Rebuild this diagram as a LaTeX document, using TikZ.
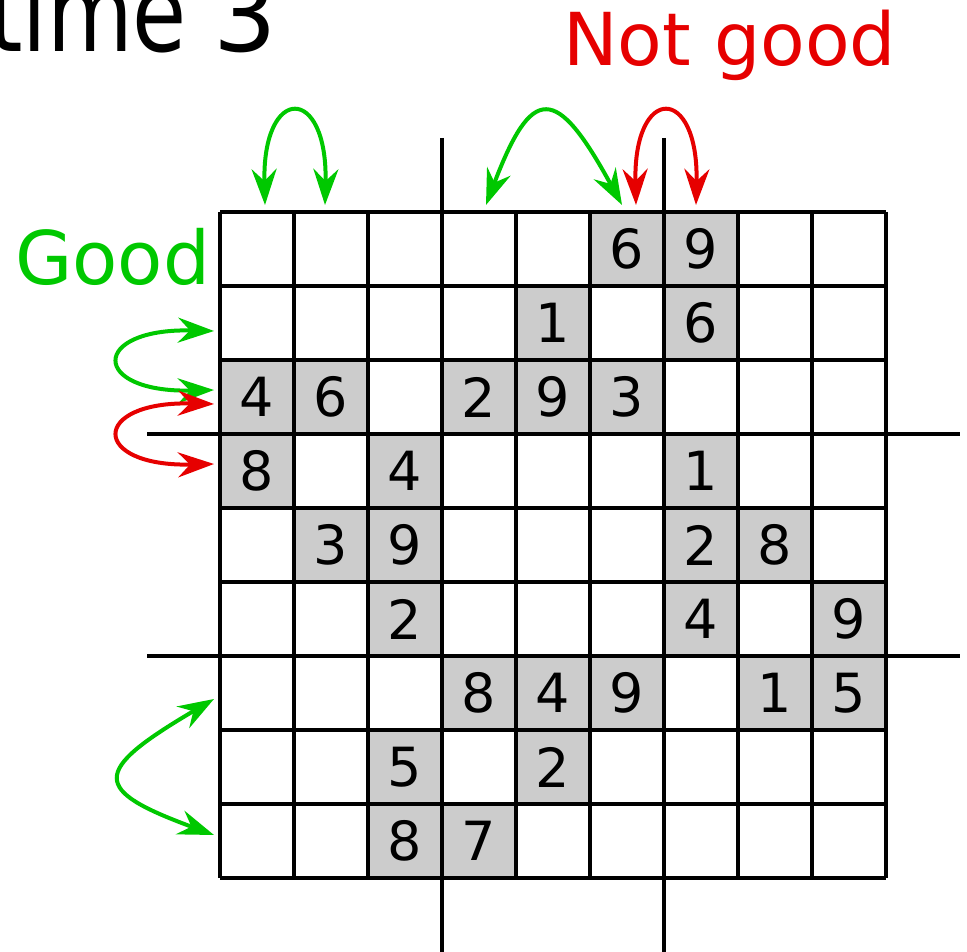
\documentclass[tikz,border=0pt]{standalone}
\usepackage{graphicx}
\usepackage{fontspec}
\setmainfont{DejaVu Sans}
\usetikzlibrary{arrows.meta}
\definecolor{gd}{RGB}{0,200,0}
\definecolor{bd}{RGB}{230,0,0}
\definecolor{cellgray}{RGB}{204,204,204}
\begin{document}
\begin{tikzpicture}[x=1pt,y=-1pt,
  gridline/.style={line width=3.7pt,black},
  link/.style={line width=4pt,{Stealth[length=36pt,width=25pt,inset=12pt]}-{Stealth[length=36pt,width=25pt,inset=12pt]}},
  cellnode/.style={fill=cellgray,minimum size=74pt,inner sep=0pt,font=\fontsize{54}{54}\selectfont}]
\useasboundingbox (0,0) rectangle (967,952);
% filled cells
\foreach \r/\c/\d in {0/5/6,0/6/9,1/4/1,1/6/6,2/0/4,2/1/6,2/3/2,2/4/9,2/5/3,3/0/8,3/2/4,3/6/1,4/1/3,4/2/9,4/6/2,4/7/8,5/2/2,5/6/4,5/8/9,6/3/8,6/4/4,6/5/9,6/7/1,6/8/5,7/2/5,7/4/2,8/2/8,8/3/7}
  \node[cellnode] (c\r\c) at ({257+74*\c},{249+74*\r}) {\d};
% grid
\foreach \i in {0,...,9} {
  \draw[gridline] ({220+74*\i},212) -- ({220+74*\i},878);
  \draw[gridline] (220,{212+74*\i}) -- (886,{212+74*\i});
}
% long box lines
\draw[gridline] (442,138) -- (442,952);
\draw[gridline] (664,138) -- (664,952);
\draw[gridline] (147,434) -- (960,434);
\draw[gridline] (147,656) -- (960,656);
% texts
\node[anchor=base west,inner sep=0pt,font=\fontsize{100}{100}\selectfont] (title) at (-12,52) {{\fontsize{110}{110}\selectfont\scalebox{0.8}[1]{time}}\hspace{-5pt} 3};
\node[anchor=base west,inner sep=0pt,text=bd,font=\fontsize{73}{73}\selectfont] (notgood) at (563,66) {Not good};
\node[anchor=base west,inner sep=0pt,text=gd,font=\fontsize{74}{74}\selectfont] (good) at (15,285) {Good};
% arrow end points
\coordinate (ta1) at (265,205); \coordinate (tb1) at (325,205);
\coordinate (ta2) at (486,205); \coordinate (tb2) at (622,205);
\coordinate (ta3) at (636,205); \coordinate (tb3) at (696,205);
\coordinate (la1) at (214,331); \coordinate (lb1) at (214,390);
\coordinate (la2) at (214,404); \coordinate (lb2) at (214,464);
\coordinate (la3) at (214,699); \coordinate (lb3) at (214,835);
% arrows
\draw[link,gd] (ta1) .. controls (262,84) and (328,84) .. (tb1);
\draw[link,gd] (ta2) .. controls (532,84) and (556,84) .. (tb2);
\draw[link,bd] (ta3) .. controls (633,84) and (699,84) .. (tb3);
\draw[link,gd] (la1) .. controls (90,328) and (90,393) .. (lb1);
\draw[link,bd] (la2) .. controls (90,401) and (90,467) .. (lb2);
\draw[link,gd] (la3) .. controls (90,772) and (92,790) .. (lb3);
\end{tikzpicture}
\end{document}
